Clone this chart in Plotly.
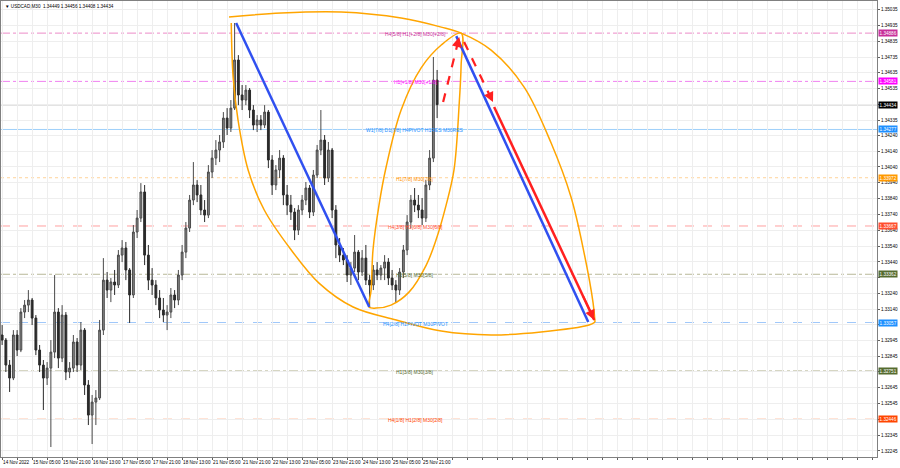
import plotly.graph_objects as go

# ---------------- data ----------------
header_text = "\u25BC USDCAD,M30  1.34449 1.34456 1.34408 1.34434"

# 2-hour candles (index 0..116)
opens = [1.32978,1.32946,1.32788,1.32706,1.32978,1.32883,1.33123,1.33167,1.33199,1.33085,
         1.32883,1.32788,1.32706,1.32769,1.32870,1.33123,1.32832,1.33104,1.32744,1.32769,
         1.32934,1.32788,1.33009,1.32662,1.32472,1.32554,1.32580,1.33009,1.33325,1.33262,
         1.33313,1.33294,1.33483,1.33528,1.33389,1.33231,1.33629,1.33717,1.33882,1.33483,
         1.33325,1.33294,1.33212,1.33136,1.33104,1.33123,1.33231,1.33199,1.33357,1.33502,
         1.33654,1.33831,1.33926,1.33863,1.33768,1.33736,1.34008,1.34096,1.34147,1.34198,
         1.34349,1.34286,1.34412,1.34716,1.34495,1.34463,1.34526,1.34400,1.34305,1.34337,
         1.34305,1.34387,1.34084,1.33926,1.34021,1.34096,1.33863,1.33799,1.33755,1.33641,
         1.33768,1.33831,1.33907,1.33755,1.33989,1.34147,1.34210,1.33970,1.34147,1.33768,
         1.33547,1.33483,1.33452,1.33357,1.33401,1.33502,1.33376,1.33464,1.33325,1.33294,
         1.33389,1.33357,1.33401,1.33439,1.33338,1.33294,1.33262,1.33376,1.33515,1.33692,
         1.33831,1.33799,1.33768,1.33717,1.33926,1.34096,1.34589]
highs = [1.33041,1.32959,1.32820,1.33009,1.33009,1.33148,1.33199,1.33262,1.33212,1.33104,
         1.32915,1.32820,1.32807,1.32946,1.33357,1.33148,1.33167,1.33123,1.32807,1.32978,
         1.32959,1.33060,1.33022,1.32693,1.32599,1.32630,1.33073,1.33464,1.33376,1.33338,
         1.33389,1.33515,1.33578,1.33566,1.33401,1.33673,1.33768,1.33938,1.33926,1.33547,
         1.33401,1.33325,1.33262,1.33212,1.33167,1.33275,1.33262,1.33389,1.33547,1.33692,
         1.33863,1.34071,1.33957,1.33926,1.33831,1.34052,1.34147,1.34210,1.34242,1.34387,
         1.34412,1.34463,1.34950,1.34747,1.34558,1.34558,1.34539,1.34431,1.34368,1.34368,
         1.34431,1.34400,1.34115,1.34052,1.34147,1.34115,1.33926,1.33863,1.33780,1.33799,
         1.33863,1.33945,1.33926,1.34021,1.34179,1.34400,1.34242,1.34198,1.34160,1.33799,
         1.33591,1.33528,1.33483,1.33439,1.33610,1.33515,1.33515,1.33547,1.33357,1.33420,
         1.33439,1.33420,1.33483,1.33464,1.33389,1.33325,1.33401,1.33547,1.33736,1.33863,
         1.33907,1.33863,1.33844,1.33957,1.34147,1.34735,1.34653]
lows = [1.32915,1.32744,1.32618,1.32693,1.32845,1.32870,1.33085,1.33123,1.33041,1.32851,
        1.32744,1.32504,1.32662,1.32270,1.32832,1.32769,1.32807,1.32693,1.32706,1.32744,
        1.32744,1.32757,1.32599,1.32409,1.32289,1.32409,1.32567,1.32978,1.33212,1.33186,
        1.33231,1.33275,1.33439,1.33325,1.33054,1.33212,1.33591,1.33692,1.33420,1.33262,
        1.33231,1.33167,1.33085,1.33060,1.33009,1.33085,1.33148,1.33167,1.33325,1.33464,
        1.33629,1.33799,1.33818,1.33736,1.33692,1.33717,1.33970,1.34052,1.34071,1.34160,
        1.34242,1.34261,1.34400,1.34431,1.34400,1.34431,1.34349,1.34273,1.34261,1.34273,
        1.34286,1.34033,1.33863,1.33894,1.33970,1.33799,1.33736,1.33705,1.33578,1.33610,
        1.33736,1.33799,1.33717,1.33730,1.33970,1.34115,1.33926,1.33945,1.33717,1.33464,
        1.33439,1.33420,1.33313,1.33294,1.33376,1.33325,1.33351,1.33294,1.33148,1.33262,
        1.33325,1.33325,1.33325,1.33294,1.33262,1.33186,1.33231,1.33338,1.33483,1.33654,
        1.33755,1.33717,1.33673,1.33692,1.33894,1.34071,1.34349]
closes = [1.32946,1.32788,1.32706,1.32978,1.32883,1.33123,1.33167,1.33199,1.33085,1.32883,
          1.32788,1.32706,1.32769,1.32870,1.33123,1.32832,1.33104,1.32744,1.32769,1.32934,
          1.32788,1.33009,1.32662,1.32472,1.32554,1.32580,1.33009,1.33325,1.33262,1.33313,
          1.33294,1.33483,1.33528,1.33389,1.33231,1.33629,1.33717,1.33882,1.33483,1.33325,
          1.33294,1.33212,1.33136,1.33104,1.33123,1.33231,1.33199,1.33357,1.33502,1.33654,
          1.33831,1.33926,1.33863,1.33768,1.33736,1.34008,1.34096,1.34147,1.34198,1.34349,
          1.34286,1.34412,1.34716,1.34495,1.34463,1.34526,1.34400,1.34305,1.34337,1.34305,
          1.34387,1.34084,1.33926,1.34021,1.34096,1.33863,1.33799,1.33755,1.33641,1.33768,
          1.33831,1.33907,1.33755,1.33989,1.34147,1.34210,1.33970,1.34147,1.33768,1.33547,
          1.33483,1.33452,1.33357,1.33401,1.33502,1.33376,1.33464,1.33325,1.33294,1.33389,
          1.33357,1.33401,1.33439,1.33338,1.33294,1.33262,1.33376,1.33515,1.33692,1.33831,
          1.33799,1.33768,1.33717,1.33926,1.34096,1.34589,1.34434]

date_labels = ["14 Nov 2022", "15 Nov 05:00", "15 Nov 21:00", "16 Nov 13:00", "17 Nov 05:00",
               "17 Nov 21:00", "18 Nov 13:00", "21 Nov 05:00", "21 Nov 21:00", "22 Nov 13:00",
               "23 Nov 05:00", "23 Nov 21:00", "24 Nov 13:00", "25 Nov 05:00", "25 Nov 21:00"]

price_ticks = [1.35035, 1.34935, 1.34835, 1.34735, 1.34635, 1.34535, 1.34435, 1.34335,
               1.34240, 1.34140, 1.34040, 1.33940, 1.33840, 1.33740, 1.33640, 1.33540,
               1.33440, 1.33340, 1.33240, 1.33140, 1.33045, 1.32945, 1.32845, 1.32745,
               1.32645, 1.32545, 1.32445, 1.32345, 1.32245]
hidden_ticks = [1.34435, 1.33340, 1.33045, 1.32745, 1.32445]

current_price = 1.34434

level_prices = [1.34886, 1.34581, 1.34277, 1.33972, 1.33667, 1.33362, 1.33057, 1.32751, 1.32446]
level_texts = ["H4[5/8] H1[+2/8] M30[+2/8]", "H1[+1/8] M30[+1/8]",
               "W1[7/8] D1[7/8] H4PIVOT H1RES M30RES", "H1[7/8] M30[7/8]",
               "H4[3/8] H1[6/8] M30[6/8]", "H1[5/8] M30[5/8]",
               "H4[2/8] H1PIVOT M30PIVOT", "H1[3/8] M30[3/8]", "H4[1/8] H1[2/8] M30[2/8]"]

# drawing objects (bar index, price)
trend1_x = [62.4, 97.9]
trend1_y = [1.34950, 1.33155]
trend2_x = [121.1, 156.3]
trend2_y = [1.34867, 1.33060]
red_up_x = [117.6, 121.9]
red_up_y = [1.34450, 1.34861]
red_dn_x = [123.2, 130.9]
red_dn_y = [1.34830, 1.34450]
red_main_x = [131.2, 157.9]
red_main_y = [1.34419, 1.33073]

arc_top_x = [60.5, 74.4, 90.4, 106.4, 117.1, 122.4, 130.4, 139.2, 146.4, 151.7, 155.2, 157.6, 158.1]
arc_top_y = [1.34988, 1.35013, 1.35019, 1.34981, 1.34924, 1.34886, 1.34779, 1.34545,
             1.34191, 1.33850, 1.33496, 1.33180, 1.33060]
arc_low_x = [61.1, 61.6, 62.9, 65.6, 69.9, 77.1, 84.5, 93.6, 105.1, 117.1, 130.4, 143.7, 156.5, 158.1]
arc_low_y = [1.34950, 1.34608, 1.34337, 1.34021, 1.33768, 1.33515, 1.33306, 1.33155,
             1.33073, 1.33003, 1.32978, 1.32997, 1.33041, 1.33060]
ellipse_x = [97.9, 98.4, 98.9, 100.5, 102.4, 106.4, 111.7, 117.1, 122.4, 122.4, 121.9,
             120.5, 118.4, 115.7, 113.1, 108.5, 103.7, 99.7, 97.9]
ellipse_y = [1.33155, 1.33262, 1.33515, 1.33799, 1.34040, 1.34400, 1.34665, 1.34811, 1.34886,
             1.34684, 1.34444, 1.34021, 1.33799, 1.33578, 1.33420, 1.33249, 1.33167, 1.33148, 1.33155]

# ---------------- styles ----------------
level_line_colors = ["#ec8cc8", "#f080f0", "#9fd0fa", "#ffd39a", "#ffa0a0",
                     "#b8b898", "#a0c8fa", "#b8b898", "#ffa880"]
level_dash = ["dashdot", "dashdot", "solid", "dot", "dash", "dashdot", "dash", "dashdot", "dash"]
level_tag_colors = ["#c8309a", "#ff00ff", "#1e90ff", "#ff9900", "#ff4d2e",
                    "#556b2f", "#1e90ff", "#556b2f", "#ff4500"]
level_text_colors = ["#c8309a", "#ff00ff", "#1e90ff", "#ff9000", "#ff4d2e",
                     "#556b2f", "#1e90ff", "#556b2f", "#ff4500"]
ORANGE = "#ffa500"
BLUE = "#3050f0"
RED = "#ff2020"
FONT = "Liberation Sans"

x_idx = list(range(len(closes)))

fig = go.Figure()

fig.add_trace(go.Candlestick(
    x=x_idx, open=opens, high=highs, low=lows, close=closes,
    increasing=dict(line=dict(color="#4a4a4a", width=1), fillcolor="#858585"),
    decreasing=dict(line=dict(color="#2a2a2a", width=1), fillcolor="#2a2a2a"),
    whiskerwidth=0, hoverinfo="skip", showlegend=False))

def line(xs, ys, color, width, dash="solid", shape="linear"):
    fig.add_trace(go.Scatter(x=xs, y=ys, mode="lines", hoverinfo="skip", showlegend=False,
                             line=dict(color=color, width=width, dash=dash, shape=shape)))

line(arc_top_x, arc_top_y, ORANGE, 1.5, shape="spline")
line(arc_low_x, arc_low_y, ORANGE, 1.5, shape="spline")
line(ellipse_x, ellipse_y, ORANGE, 1.5, shape="spline")
line(trend1_x, trend1_y, BLUE, 2.5)
line(trend2_x, trend2_y, BLUE, 2.5)
line(red_up_x, red_up_y, RED, 2.2, dash="dash")
line(red_dn_x, red_dn_y, RED, 2.2, dash="dash")
line(red_main_x, red_main_y, RED, 2.5)

shapes = []
annotations = []

# current price line
shapes.append(dict(type="line", xref="paper", x0=0, x1=1, yref="y", y0=current_price, y1=current_price,
                   line=dict(color="#c8c8c8", width=1.5), layer="below"))
# level lines, labels, tags
for p, t, lc, d, tc, txc in zip(level_prices, level_texts, level_line_colors, level_dash,
                                 level_tag_colors, level_text_colors):
    shapes.append(dict(type="line", xref="paper", x0=0, x1=1, yref="y", y0=p, y1=p,
                       line=dict(color=lc, width=1, dash=d), layer="below"))
    annotations.append(dict(x=110.1, y=p, xref="x", yref="y", text=t, showarrow=False,
                            xanchor="center", yanchor="middle", yshift=-1,
                            font=dict(family=FONT, size=5, color=txc)))
    annotations.append(dict(x=1, y=p, xref="paper", yref="y", text=f"{p:.5f}", showarrow=False,
                            xanchor="left", yanchor="middle", xshift=1, bgcolor=tc, borderpad=0.6,
                            font=dict(family=FONT, size=4.6, color="white")))
annotations.append(dict(x=1, y=current_price, xref="paper", yref="y", text=f"{current_price:.5f}",
                        showarrow=False, xanchor="left", yanchor="middle", xshift=1, bgcolor="#000000",
                        borderpad=0.6, font=dict(family=FONT, size=4.6, color="white")))

# arrow heads
for xs, ys in [(red_up_x, red_up_y), (red_dn_x, red_dn_y), (red_main_x, red_main_y)]:
    annotations.append(dict(x=xs[1], y=ys[1], ax=xs[1] - (xs[1] - xs[0]) * 0.12,
                            ay=ys[1] - (ys[1] - ys[0]) * 0.12, xref="x", yref="y", axref="x", ayref="y",
                            text="", showarrow=True, arrowhead=2, arrowsize=1, arrowwidth=2,
                            arrowcolor=RED))

# header
annotations.append(dict(x=0, y=1, xref="paper", yref="paper", text=header_text, showarrow=False,
                        xanchor="left", yanchor="top", xshift=2, yshift=-1,
                        font=dict(family=FONT, size=4.6, color="#000000")))

# axes ticks
x_grid = list(range(0, 236, 4))
x_text = []
for v in x_grid:
    k = v // 8
    x_text.append(date_labels[k] if v % 8 == 0 and k < len(date_labels) else "")
y_text = ["" if v in hidden_ticks else f"{v:.5f}" for v in price_ticks]

fig.update_layout(
    width=900, height=468,
    margin=dict(l=1, r=23, t=1, b=11),
    paper_bgcolor="white", plot_bgcolor="white",
    shapes=shapes, annotations=annotations,
    showlegend=False,
    xaxis=dict(range=[-0.3, 233.3], tickvals=x_grid, ticktext=x_text, tickangle=0,
               showgrid=True, gridcolor="#eeeeee", gridwidth=1,
               ticks="outside", ticklen=2, tickcolor="#606060",
               ticklabelposition="outside right", ticklabelstandoff=0,
               tickfont=dict(family=FONT, size=4.6, color="#000000"),
               showline=True, linecolor="#808080", mirror=True, zeroline=False,
               rangeslider=dict(visible=False), fixedrange=True, automargin=False),
    yaxis=dict(range=[1.32207, 1.35089], side="right", tickvals=price_ticks, ticktext=y_text,
               showgrid=True, gridcolor="#eeeeee", gridwidth=1,
               ticks="outside", ticklen=2, tickcolor="#606060", ticklabelstandoff=0,
               tickfont=dict(family=FONT, size=4.6, color="#000000"),
               showline=True, linecolor="#808080", mirror=True, zeroline=False, fixedrange=True,
               automargin=False),
)

fig.write_html("out.html", config={"displayModeBar": False},
               post_script="document.body.style.margin='0px';")
